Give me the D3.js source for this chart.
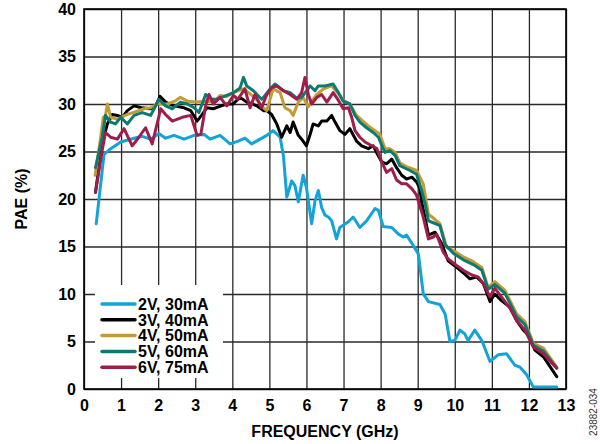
<!DOCTYPE html>
<html><head><meta charset="utf-8">
<script src="https://cdn.jsdelivr.net/npm/d3@7"></script>
<style>body{margin:0;background:#fff} svg{display:block} text{font-family:"Liberation Sans",Arial,sans-serif;}</style>
</head><body><svg id="c" width="600" height="444"></svg>
<script>
// ---- data ----
const xTicks = [0,1,2,3,4,5,6,7,8,9,10,11,12,13];
const yTicks = [0,5,10,15,20,25,30,35,40];
const xTitle = "FREQUENCY (GHz)";
const yTitle = "PAE (%)";
const seriesNames = ["2V, 30mA","3V, 40mA","4V, 50mA","5V, 60mA","6V, 75mA"];
const seriesColors = ["#12a3d9","#000000","#c39b34","#0b7b72","#a01c4a"];

const f2V = [0.33,0.54,0.72,0.99,1.35,1.57,1.8,2.02,2.2,2.43,2.7,2.97,3.24,3.4,3.67,3.94,4.16,4.34,4.52,4.75,4.93,5.1,5.29,5.38,5.47,5.6,5.69,5.78,5.91,6.0,6.14,6.23,6.32,6.41,6.5,6.59,6.68,6.81,6.9,7.13,7.26,7.44,7.62,7.85,7.94,8.07,8.3,8.48,8.61,8.7,8.88,9.02,9.15,9.29,9.6,9.74,9.87,10.0,10.14,10.27,10.36,10.54,10.73,10.95,11.17,11.4,11.62,11.76,11.94,12.12,12.75];
const pae2V = [17.4,24.7,25.3,26.0,26.4,26.6,26.3,26.9,26.4,26.7,26.3,26.7,26.8,26.3,26.7,25.8,26.1,26.4,25.8,26.3,26.7,27.2,26.5,24.5,20.2,21.9,21.4,19.7,22.5,21.2,17.4,19.8,20.9,19.1,18.3,18.1,17.7,15.8,17.0,17.6,18.1,17.0,17.7,19.0,18.8,17.1,17.0,16.3,16.0,16.2,15.1,14.2,10.0,9.2,8.9,7.9,5.0,5.1,6.2,5.8,5.1,6.2,5.1,2.9,3.6,3.7,2.5,2.3,1.5,0.2,0.2];

const f3V = [0.31,0.49,0.63,0.76,0.9,1.03,1.17,1.35,1.55,1.8,1.93,2.05,2.2,2.43,2.7,2.88,3.05,3.19,3.31,3.49,3.7,3.85,4.02,4.21,4.39,4.55,4.66,4.84,4.93,5.06,5.2,5.33,5.47,5.56,5.64,5.78,5.87,6.0,6.1,6.18,6.32,6.41,6.55,6.68,6.77,6.9,7.04,7.17,7.35,7.49,7.67,7.8,7.89,8.03,8.16,8.3,8.43,8.57,8.7,8.84,8.97,9.06,9.1,9.2,9.29,9.47,9.65,9.82,10.05,10.27,10.41,10.59,10.77,10.95,11.08,11.26,11.49,11.67,11.85,12.03,12.16,12.39,12.75];
const pae3V = [20.7,25.8,27.9,28.9,28.8,28.6,29.3,29.8,29.6,29.5,29.8,30.8,30.2,29.8,29.6,29.3,28.2,28.9,29.6,29.5,29.8,30.0,30.0,30.7,30.2,30.0,29.8,29.3,29.3,28.9,27.9,26.5,27.7,27.0,28.1,26.7,26.3,25.6,26.8,27.9,27.7,28.2,28.2,28.8,28.1,27.2,26.8,27.4,26.1,25.6,25.3,25.6,24.9,23.9,23.7,24.2,23.3,22.5,22.1,22.3,21.8,21.1,19.8,18.0,16.2,16.5,15.3,13.5,12.8,12.1,11.6,11.8,11.1,9.2,10.0,9.3,8.6,7.2,6.2,5.5,4.1,3.4,1.3];

const f4V = [0.3,0.45,0.52,0.58,0.63,0.72,0.9,1.17,1.4,1.62,1.8,1.98,2.25,2.45,2.6,2.79,3.05,3.3,3.5,3.67,3.85,4.03,4.3,4.5,4.7,4.84,4.93,5.1,5.29,5.42,5.56,5.64,5.78,5.91,6.05,6.14,6.28,6.46,6.68,6.86,6.99,7.17,7.35,7.49,7.67,7.85,7.98,8.12,8.25,8.39,8.52,8.7,8.97,9.15,9.29,9.42,9.51,9.6,9.78,9.96,10.23,10.5,10.73,10.9,11.08,11.35,11.67,11.89,12.12,12.39,12.75];
const pae4V = [22.5,26.5,28.6,28.8,30.0,28.6,28.4,28.9,29.2,29.5,29.6,30.0,30.0,30.3,30.7,30.3,30.2,30.3,30.2,30.9,30.8,31.2,31.6,31.0,30.3,29.6,29.3,31.6,31.2,29.6,29.3,28.8,30.2,30.7,29.7,30.3,31.0,31.6,31.9,31.1,30.4,30.0,28.8,28.3,27.7,27.2,26.8,25.3,25.3,24.9,23.8,23.4,23.0,21.6,18.4,18.0,17.7,17.4,14.9,14.6,13.9,13.4,12.8,10.7,11.3,10.4,7.9,7.1,4.8,4.3,2.3];

const f5V = [0.31,0.49,0.58,0.72,0.85,0.99,1.17,1.35,1.57,1.8,2.02,2.2,2.38,2.6,2.79,2.97,3.1,3.28,3.45,3.58,3.85,4.03,4.21,4.3,4.39,4.57,4.79,4.84,5.02,5.15,5.38,5.56,5.74,5.87,6.1,6.23,6.32,6.5,6.72,6.86,6.99,7.17,7.31,7.44,7.62,7.8,7.94,8.07,8.12,8.25,8.39,8.52,8.79,8.97,9.1,9.2,9.29,9.42,9.6,9.74,9.96,10.23,10.5,10.73,10.9,11.08,11.35,11.67,11.89,12.12,12.39,12.75];
const pae5V = [23.3,26.5,28.8,28.1,27.9,28.6,27.9,28.8,29.1,28.8,30.5,29.8,29.5,30.2,30.0,29.6,29.1,31.0,30.5,30.5,30.9,31.2,31.7,32.8,31.9,31.4,30.5,30.7,31.6,32.1,31.4,31.2,30.6,30.7,31.9,31.4,31.9,31.9,32.1,31.2,30.3,30.0,28.8,28.1,27.5,27.0,26.5,25.3,24.9,25.1,24.6,23.5,23.0,22.6,21.0,19.5,17.7,17.5,17.2,15.2,14.3,13.6,13.1,12.5,10.5,11.0,10.1,7.6,6.8,4.6,4.0,2.2];

const f6V = [0.31,0.49,0.58,0.72,0.9,1.08,1.3,1.48,1.66,1.84,2.07,2.2,2.38,2.65,2.88,3.05,3.15,3.28,3.37,3.49,3.67,3.85,4.03,4.15,4.34,4.48,4.61,4.79,4.93,5.06,5.2,5.38,5.56,5.74,5.87,5.96,6.05,6.14,6.28,6.41,6.55,6.72,6.86,6.99,7.13,7.22,7.31,7.44,7.58,7.76,7.9,8.03,8.16,8.3,8.43,8.57,8.7,8.84,8.97,9.15,9.29,9.42,9.51,9.69,9.82,10.05,10.23,10.46,10.63,10.77,10.95,11.08,11.22,11.49,11.67,11.89,12.12,12.39,12.75];
const pae6V = [20.7,25.1,27.0,26.5,26.3,27.4,25.6,26.5,27.5,25.8,29.5,28.9,28.2,28.6,28.8,26.7,26.8,29.8,31.0,30.0,30.7,29.8,30.9,30.5,31.6,29.6,31.0,29.6,31.0,31.7,31.9,31.4,31.0,30.5,31.2,32.8,31.0,30.0,30.7,31.0,30.2,31.2,30.4,29.5,29.6,28.6,27.2,26.5,26.0,25.6,25.3,23.9,22.8,23.2,22.0,21.6,21.6,21.1,20.4,18.1,15.8,16.0,16.3,14.4,13.7,13.0,12.5,12.0,11.8,11.1,9.7,10.6,9.9,8.5,7.2,6.2,4.4,3.7,2.2];

const seriesF = [f2V,f3V,f4V,f5V,f6V];
const seriesV = [pae2V,pae3V,pae4V,pae5V,pae6V];

// ---- drawing ----
const svg = d3.select("#c");
const L = 84, R = 566, T = 9, B = 389;
const x = d3.scaleLinear().domain([0,13]).range([L,R]);
const y = d3.scaleLinear().domain([0,40]).range([B,T]);

const gx = svg.append("g").attr("transform",`translate(0,${B})`)
  .call(d3.axisBottom(x).tickValues(xTicks).tickSize(-(B-T)).tickPadding(11).tickFormat(d3.format("d")));
const gy = svg.append("g").attr("transform",`translate(${L},0)`)
  .call(d3.axisLeft(y).tickValues(yTicks).tickSize(-(R-L)).tickPadding(8).tickFormat(d3.format("d")));
[gx,gy].forEach(g=>{
  g.select(".domain").remove();
  g.selectAll(".tick line").attr("stroke","#2a2a2a").attr("stroke-width",1.3);
  g.selectAll(".tick text").attr("fill","#000").style("font-size","16px").style("font-weight","bold");
});

// legend background
svg.append("rect").attr("x",95).attr("y",285).attr("width",128).attr("height",93).attr("fill","#fff");

// border
svg.append("rect").attr("x",L).attr("y",T).attr("width",R-L).attr("height",B-T)
  .attr("fill","none").attr("stroke","#000").attr("stroke-width",1.6);

const line = d3.line().x(d=>x(d[0])).y(d=>y(d[1])).curve(d3.curveLinear);
seriesNames.forEach((n,i)=>{
  const pts = seriesF[i].map((f,j)=>[f,seriesV[i][j]]);
  svg.append("path").datum(pts).attr("d",line).attr("fill","none")
    .attr("stroke",seriesColors[i]).attr("stroke-width",3).attr("stroke-linejoin","round").attr("stroke-linecap","round");
});

// legend
const lg = svg.append("g");
seriesNames.forEach((n,i)=>{
  const cy = 304 + i*15.8;
  lg.append("line").attr("x1",102).attr("x2",135).attr("y1",cy).attr("y2",cy)
    .attr("stroke",seriesColors[i]).attr("stroke-width",3.5).attr("stroke-linecap","round");
  lg.append("text").attr("x",138).attr("y",cy).attr("dy","0.36em").text(n)
    .style("font-size","16px").style("font-weight","bold");
});

// titles
svg.append("text").attr("x",(L+R)/2).attr("y",437).attr("text-anchor","middle")
  .style("font-size","16px").style("font-weight","bold").text(xTitle);
svg.append("text").attr("transform",`translate(27,${(T+B)/2}) rotate(-90)`).attr("text-anchor","middle")
  .style("font-size","16px").style("font-weight","bold").text(yTitle);
svg.append("text").attr("transform",`translate(597,412) rotate(-90)`).attr("text-anchor","middle")
  .style("font-size","10px").attr("fill","#333").text("23882-034");
</script></body></html>
